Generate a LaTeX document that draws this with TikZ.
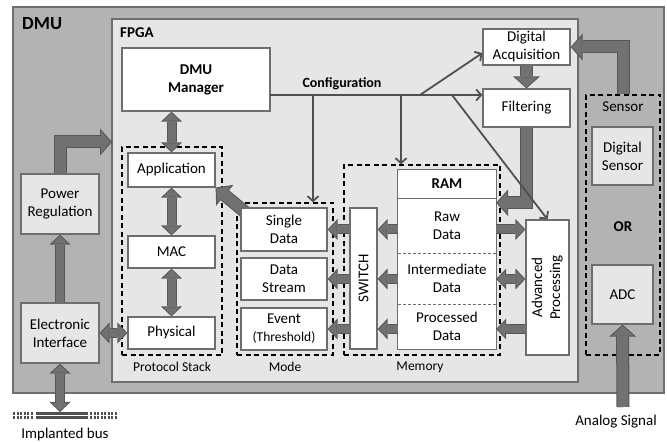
\documentclass[tikz,border=0pt]{standalone}
\usepackage{fontspec}
\setmainfont{Carlito}
\usetikzlibrary{arrows.meta,calc}

\definecolor{dmugrey}{HTML}{B3B3B3}
\definecolor{fpgagrey}{HTML}{E6E6E6}
\definecolor{edgegrey}{HTML}{6E6E6E}
\definecolor{fatfill}{HTML}{717171}
\definecolor{fatedge}{HTML}{565656}
\definecolor{wiregrey}{HTML}{505050}

\tikzset{
	wh/.style 2 args={minimum width=#1pt, minimum height=#2pt},
	txt/.style={font=\fontsize{15}{18}\selectfont, align=center, inner sep=0pt},
	bold/.style={font=\fontsize{15}{18}\selectfont\bfseries, align=center, inner sep=0pt},
	small/.style={font=\fontsize{13.5}{16}\selectfont, inner sep=0pt},
	frame/.style={draw=edgegrey, line width=1.5pt, inner sep=0pt},
	block/.style={txt, draw=edgegrey, line width=1.2pt, fill=white},
	greyblock/.style={block, fill=fpgagrey},
	group/.style={draw=black, line width=1.3pt, dash pattern=on 5pt off 3.5pt, inner sep=0pt},
	wire/.style={draw=wiregrey, line width=1.8pt, -{Straight Barb[length=5pt,width=11pt]}},
	bus/.style={draw=wiregrey, line width=2.2pt},
	fat/.style={draw=fatfill, line width=8pt, shorten >=1.4pt,
		-{Triangle[length=7.6pt,width=16pt,line width=0pt]},
		preaction={draw=fatedge, line width=10pt, shorten >=0pt,
			-{Triangle[length=10pt,width=21pt,line width=0pt]}}},
	fat2/.style={draw=fatfill, line width=8pt, shorten >=1.4pt, shorten <=1.4pt,
		{Triangle[length=7.6pt,width=16pt,line width=0pt]}-{Triangle[length=7.6pt,width=16pt,line width=0pt]},
		preaction={draw=fatedge, line width=10pt, shorten >=0pt, shorten <=0pt,
			{Triangle[length=10pt,width=21pt,line width=0pt]}-{Triangle[length=10pt,width=21pt,line width=0pt]}}},
	fatbig/.style={draw=fatfill, line width=11pt, shorten >=1.3pt,
		-{Triangle[length=9.7pt,width=21.7pt,line width=0pt]},
		preaction={draw=fatedge, line width=13pt, shorten >=0pt,
			-{Triangle[length=12pt,width=27pt,line width=0pt]}}},
}

\begin{document}
\begin{tikzpicture}[x=1pt, y=-1pt]

	\useasboundingbox (0,0) rectangle (667,443);

	% ---- containers

	\node[frame, fill=dmugrey, wh={651}{386}] (dmu) at (338.5,200) {};
	\node[frame, fill=fpgagrey, wh={466}{363}] (fpga) at (345,200.5) {};

	\node[font=\fontsize{18.5}{20}\selectfont\bfseries, anchor=base west, inner sep=0pt] (dmulbl) at (22,30) {DMU};
	\node[bold, anchor=base west] (fpgalbl) at (120,38) {FPGA};

	% ---- dashed groups

	\node[group, wh={100}{208}] (stack) at (172,251) {};
	\node[group, wh={96}{152}] (mode) at (285,279) {};
	\node[group, wh={156}{190}] (memory) at (422,260) {};
	\node[group, wh={74}{260}] (sensor) at (623,225) {};

	\node[small] (stacklbl) at (172,367) {Protocol Stack};
	\node[small] (modelbl) at (285,367) {Mode};
	\node[small] (memorylbl) at (420,367) {Memory};
	\node[txt] (sensorlbl) at (623,107) {Sensor};
	\node[bold] (orlbl) at (623,227) {OR};

	% ---- left side

	\node[greyblock, wh={78}{60}] (power) at (60,204) {Power\\Regulation};
	\node[greyblock, wh={78}{60}] (eif) at (60,333) {Electronic\\Interface};

	% ---- protocol stack

	\node[block, wh={148}{63}, font=\fontsize{15}{18}\selectfont\bfseries] (manager) at (196,79.5) {DMU\\Manager};
	\node[block, wh={87}{34}] (app) at (171.5,170) {Application};
	\node[block, wh={87}{32}] (mac) at (171.5,252) {MAC};
	\node[block, wh={87}{32}] (phy) at (171.5,333) {Physical};

	\coordinate (modetail) at (245,212);
	\draw[fatbig] (modetail) -- (app.south east);

	% ---- mode

	\node[block, wh={86}{43}] (single) at (284,229.5) {Single\\Data};
	\node[block, wh={86}{42}] (stream) at (284,279) {Data\\Stream};
	\node[block, wh={86}{42}] (event) at (284,329) {Event\\{\fontsize{13.5}{16}\selectfont(Threshold)}};

	% ---- memory

	\node[block, wh={27}{141}] (switch) at (363.5,278.5) {\rotatebox{90}{SWITCH}};

	\node[bold, fill=white, wh={98}{28}] (ramhead) at (447,184) {RAM};
	\node[txt, fill=white, wh={98}{55}] (raw) at (447,225.5) {Raw\\Data};
	\node[txt, fill=white, wh={98}{51}] (inter) at (447,278.5) {Intermediate\\Data};
	\node[txt, fill=white, wh={98}{45}] (proc) at (447,326.5) {Processed\\Data};

	\draw[draw=edgegrey, line width=1.2pt] (ramhead.north west) rectangle (proc.south east);
	\draw[draw=edgegrey, line width=1.2pt] (ramhead.south west) -- (ramhead.south east);
	\draw[draw=edgegrey, line width=0.8pt, dash pattern=on 3pt off 2pt] (raw.south west) -- (raw.south east);
	\draw[draw=edgegrey, line width=0.8pt, dash pattern=on 3pt off 2pt] (inter.south west) -- (inter.south east);

	% ---- processing chain

	\node[block, wh={43}{135}] (adv) at (547.5,287.5)
		{\rotatebox{90}{\begin{tabular}{@{}c@{}}Advanced\\Processing\end{tabular}}};
	\node[block, wh={87}{36}] (acq) at (526.5,47) {Digital\\Acquisition};
	\node[block, wh={87}{38}] (filt) at (526.5,108) {Filtering};

	% ---- sensor

	\node[greyblock, wh={61}{58}] (dsens) at (622.5,156) {Digital\\Sensor};
	\node[greyblock, wh={61}{59}] (adc) at (622.5,294.5) {ADC};

	% ---- fat arrows

	\draw[fat2] (manager.south -| app.north) -- (app.north);
	\draw[fat2] (app) -- (mac);
	\draw[fat2] (mac) -- (phy);
	\draw[fat2] (eif) -- (phy);
	\draw[fat] (eif) -- (power);

	\coordinate (fpgain) at (112,142);
	\draw[fatbig] (power.north) |- (fpgain);

	\coordinate (bus) at (60,412);
	\draw[fat2] (eif) -- (bus);

	\draw[fat] (switch.west |- single) -- (single.east);
	\draw[fat] (switch.west |- stream) -- (stream.east);
	\draw[fat] (switch.west |- event) -- (event.east);

	\draw[fat] (raw.west |- single) -- (switch.east |- single);
	\draw[fat] (inter.west |- stream) -- (switch.east |- stream);
	\draw[fat] (proc.west |- event) -- (switch.east |- event);

	\draw[fat] (raw.east |- single) -- (adv.west |- single);
	\draw[fat2] (inter.east |- stream) -- (adv.west |- stream);
	\draw[fat] (adv.west |- event) -- (proc.east |- event);

	\draw[fatbig] (acq) -- (filt);
	\draw[fatbig] (filt.south) |- ($(raw.north east)+(0,5)$);
	\draw[fatbig] (sensor.north) |- (acq.east);

	\coordinate (analog) at (623,407);
	\draw[fatbig] (analog) -- (adc.south);

	% ---- configuration wires

	\coordinate (cfg) at (270,95);
	\coordinate (b1) at (313,95);
	\coordinate (b2) at (401,95);
	\coordinate (b3) at (420,95);
	\coordinate (b4) at (452,95);

	\draw[wire] (cfg) -- (cfg -| filt.west);
	\draw[wire] (b1) -- (b1 |- mode.north);
	\draw[wire] (b2) -- (b2 |- memory.north);
	\draw[wire] (b3) -- ($(acq.west)+(0,6)$);
	\draw[wire] (b4) -- (adv.north);

	\node[font=\fontsize{14}{16}\selectfont\bfseries, anchor=base, inner sep=0pt] (cfglbl) at (342,88) {Configuration};

	% ---- implanted bus

	\foreach \y in {413.5,417.5} {
		\draw[bus, dash pattern=on 2pt off 1.5pt] (13,\y) -- (34,\y);
		\draw[bus] (36,\y) -- (88,\y);
		\draw[bus, dash pattern=on 2pt off 1.5pt] (90,\y) -- (117,\y);
	}

	% ---- outside labels

	\node[txt] (buslbl) at (65,435) {Implanted bus};
	\node[txt] (analoglbl) at (616,422) {Analog Signal};

\end{tikzpicture}
\end{document}
